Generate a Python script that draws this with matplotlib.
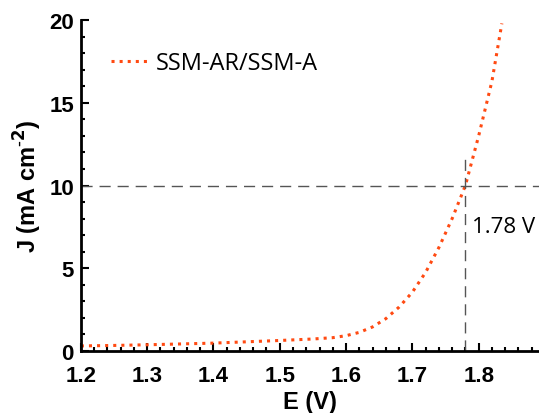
import matplotlib
matplotlib.use('Agg')
import matplotlib.pyplot as plt
from matplotlib.ticker import MultipleLocator

# polarisation curve
E = [1.20, 1.25, 1.30, 1.35, 1.40, 1.45, 1.50, 1.55, 1.58, 1.60, 1.62, 1.64,
     1.66, 1.68, 1.70, 1.72, 1.74, 1.76, 1.78, 1.80, 1.82, 1.835]
J = [0.30, 0.33, 0.37, 0.42, 0.47, 0.55, 0.63, 0.72, 0.80, 0.92, 1.12, 1.45,
     1.95, 2.65, 3.55, 4.75, 6.25, 8.0, 10.0, 13.0, 16.3, 19.8]
label = 'SSM-AR/SSM-A'
E_mark = 1.78
J_mark = 10

plt.rcParams['font.family'] = 'Liberation Sans'

fig = plt.figure(figsize=(5.39, 4.14), dpi=100)
ax = fig.add_axes([0.150, 0.150, 0.850, 0.799])

ax.plot(E, J, ':', color='#ff4a12', lw=2.2, label=label)
ax.axhline(J_mark, color='#555555', lw=1, ls=(0, (8, 5)))
ax.plot([E_mark, E_mark], [0, 11.6], color='#555555', lw=1, ls=(0, (8, 5)))
ax.text(E_mark + 0.01, 7.5, '%.2f V' % E_mark, fontsize=16, va='center',
        family='Open Sans')

ax.set_xlim(1.2, 1.891)
ax.set_ylim(0, 20)
ax.xaxis.set_major_locator(MultipleLocator(0.1))
ax.xaxis.set_minor_locator(MultipleLocator(0.02))
ax.yaxis.set_major_locator(MultipleLocator(5))
ax.yaxis.set_minor_locator(MultipleLocator(1))
ax.tick_params(which='both', direction='in', width=1.5, labelsize=16)
ax.tick_params(which='major', length=6)
ax.tick_params(which='minor', length=3)
ax.tick_params(axis='x', pad=10)
ax.tick_params(axis='y', pad=5)
for t in ax.get_xticklabels() + ax.get_yticklabels():
    t.set_fontweight('bold')

ax.spines['top'].set_visible(False)
ax.spines['right'].set_visible(False)
ax.spines['left'].set_linewidth(2)
ax.spines['bottom'].set_linewidth(2)

ax.set_xlabel('E (V)', fontsize=17, fontweight='bold', labelpad=3)
ax.set_ylabel('J (mA cm$^{\\mathbf{\\text{-}2}}$)', fontsize=17,
              fontweight='bold', labelpad=4)

ax.legend(loc='upper left', bbox_to_anchor=(0.02, 0.97), frameon=False,
          prop={'family': 'Open Sans', 'size': 17},
          handlelength=1.5, handletextpad=0.4)

fig.savefig('out.png')
